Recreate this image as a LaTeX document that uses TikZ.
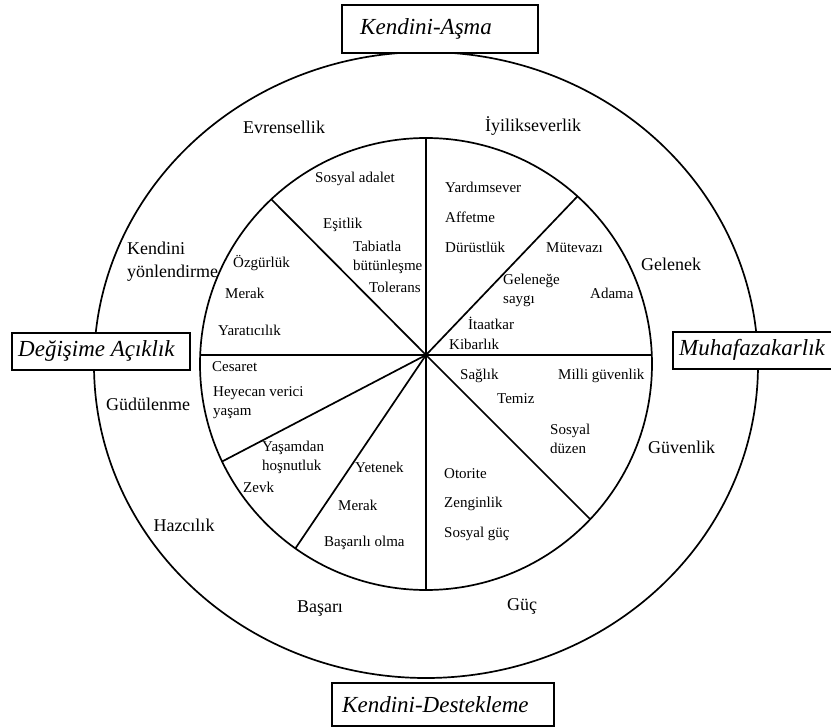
\documentclass[tikz,border=0pt]{standalone}
\usepackage{fontspec}
\setmainfont{Liberation Serif}
\begin{document}
\begin{tikzpicture}[x=1pt,y=-1pt,
  ring/.style={line width=1.7pt},
  spoke/.style={line width=1.7pt},
  lblin/.style={font=\fontsize{15}{19}\selectfont, inner sep=0pt, align=left, anchor=west},
  lblout/.style={font=\fontsize{18}{23}\selectfont, inner sep=0pt, align=left, anchor=west},
  polebox/.style={draw, fill=white, line width=1.5pt, inner sep=0pt, anchor=north west},
  polelab/.style={font=\fontsize{23}{28}\selectfont\itshape, inner sep=0pt, anchor=west}]
\useasboundingbox (0,0) rectangle (831,728);

% circles
\draw[ring] (426,365) ellipse [x radius=332pt, y radius=313pt];
\draw[ring] (426,364) circle [radius=226pt];

% spokes
\coordinate (hub) at (426,355);
\coordinate (sN) at (426,138);
\coordinate (sS) at (426,590);
\coordinate (sW) at (200.2,355);
\coordinate (sE) at (651.8,355);
\coordinate (sNW) at (271.3,199.3);
\coordinate (sNE) at (577.5,196.3);
\coordinate (sWSW) at (222.1,461.5);
\coordinate (sSSW) at (295.4,548.4);
\coordinate (sSE) at (590.3,519.3);
\foreach \e in {sN,sS,sW,sE,sNW,sNE,sWSW,sSSW,sSE}
  \draw[spoke] (hub) -- (\e);

% pole boxes
\node[polebox, minimum width=196pt, minimum height=48pt] (topbox) at (341,4) {};
\node[polelab] (toplab) at ([xshift=19pt]topbox.west) {Kendini-Aşma};
\node[polebox, minimum width=222pt, minimum height=43pt] (botbox) at (331,682) {};
\node[polelab] (botlab) at ([xshift=11pt]botbox.west) {Kendini-Destekleme};
\node[polebox, minimum width=178pt, minimum height=37pt] (leftbox) at (11,332) {};
\node[polelab] (leftlab) at ([xshift=7pt]leftbox.west) {Değişime Açıklık};
\node[polebox, minimum width=190pt, minimum height=37pt] (rightbox) at (672,331) {};
\node[polelab] (rightlab) at ([xshift=7pt]rightbox.west) {Muhafazakarlık};

% outer ring labels
\node[lblout, anchor=center] (o1) at (284,127) {Evrensellik};
\node[lblout] (o2) at (485,126) {İyilikseverlik};
\node[lblout] (o3) at (127,261.5) {Kendini\\yönlendirme};
\node[lblout] (o4) at (641,264) {Gelenek};
\node[lblout] (o5) at (106,404) {Güdülenme};
\node[lblout] (o6) at (648,447) {Güvenlik};
\node[lblout, anchor=center] (o7) at (184,525) {Hazcılık};
\node[lblout, anchor=center] (o8) at (320,609) {Başarı};
\node[lblout] (o9) at (507,606) {Güç};

% inner labels
\node[lblin] (i1) at (315,179) {Sosyal adalet};
\node[lblin] (i2) at (323,225) {Eşitlik};
\node[lblin] (i3) at (353,257) {Tabiatla\\bütünleşme};
\node[lblin] (i4) at (369,287) {Tolerans};
\node[lblin] (i5) at (233,263) {Özgürlük};
\node[lblin] (i6) at (225,293) {Merak};
\node[lblin] (i7) at (218,330) {Yaratıcılık};
\node[lblin] (i8) at (445,187) {Yardımsever};
\node[lblin] (i9) at (445,217) {Affetme};
\node[lblin] (i10) at (445,247) {Dürüstlük};
\node[lblin] (i11) at (546,248) {Mütevazı};
\node[lblin] (i12) at (503,290.5) {Geleneğe\\saygı};
\node[lblin] (i13) at (590,293) {Adama};
\node[lblin] (i14) at (468,323) {İtaatkar};
\node[lblin] (i15) at (449,344) {Kibarlık};
\node[lblin] (i16) at (212,367) {Cesaret};
\node[lblin] (i17) at (213,403) {Heyecan verici\\yaşam};
\node[lblin] (i18) at (262,457.5) {Yaşamdan\\hoşnutluk};
\node[lblin] (i19) at (243,487) {Zevk};
\node[lblin] (i20) at (355,467) {Yetenek};
\node[lblin] (i21) at (338,505) {Merak};
\node[lblin] (i22) at (324,543) {Başarılı olma};
\node[lblin] (i23) at (460,376) {Sağlık};
\node[lblin] (i24) at (497,399) {Temiz};
\node[lblin] (i25) at (558,376) {Milli güvenlik};
\node[lblin] (i26) at (550,438.5) {Sosyal\\düzen};
\node[lblin] (i27) at (444,474) {Otorite};
\node[lblin] (i28) at (444,504) {Zenginlik};
\node[lblin] (i29) at (444,534) {Sosyal güç};
\end{tikzpicture}
\end{document}
